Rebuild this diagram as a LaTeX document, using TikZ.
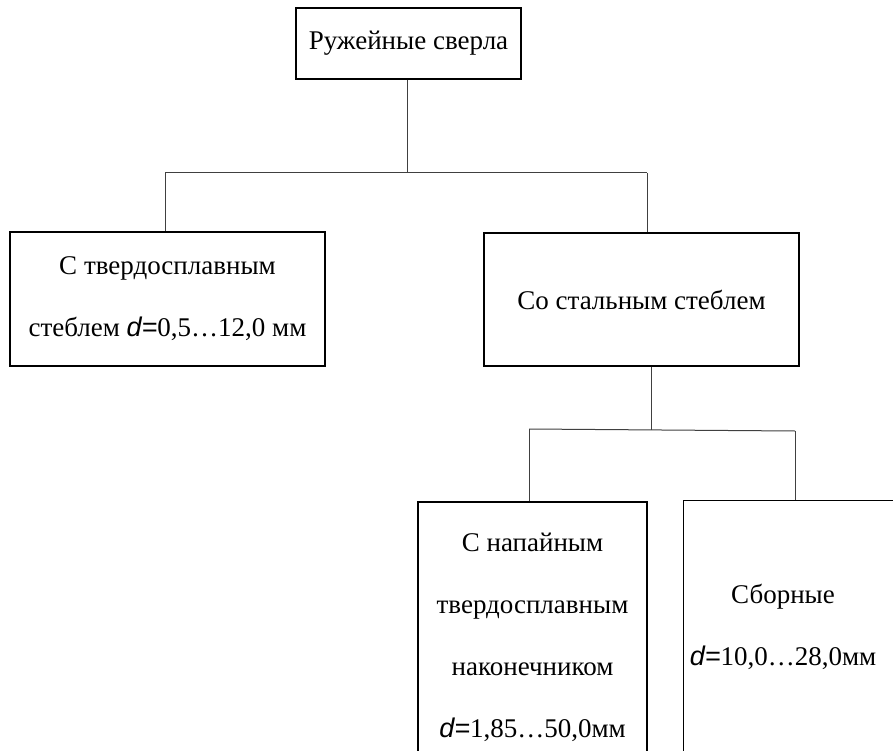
\documentclass[tikz,border=0pt]{standalone}
\usepackage{fontspec}
\setmainfont{Liberation Serif}
\setsansfont{Liberation Sans}
\usetikzlibrary{positioning}

\newcommand{\dpar}{{\sffamily\itshape d=}}

\tikzset{
	blok/.style={draw, rectangle, line width=1.4pt, align=center, inner sep=0pt,
		font=\fontsize{27}{62}\selectfont},
	nadpis/.style={align=center, inner sep=0pt, font=\fontsize{27}{62}\selectfont},
	svyaz/.style={draw=black!75, line width=1pt}
}

\begin{document}
\begin{tikzpicture}[x=1pt,y=-1pt]
			\useasboundingbox[fill=white] (0,0) rectangle (893,751);

			\node[blok, minimum width=225, minimum height=71] (sverla) at (408.5,43.5) {Ружейные сверла};
			\node[blok, minimum width=315, minimum height=134] (tverdo) at (167.5,299) {С твердосплавным\\стеблем \dpar0,5…12,0 мм};
			\node[blok, minimum width=315, minimum height=133] (stal) at (641.5,299.5) {Со стальным стеблем};
			\node[blok, minimum width=229, minimum height=270] (napai) at (532.5,637) {С напайным\\твердосплавным\\наконечником\\\dpar1,85…50,0мм};
			\node[blok, minimum width=240, minimum height=254, anchor=north west] (sborn) at (683,500) {};
			\node[nadpis] (sborntxt) at (783,627) {Сборные\\\dpar10,0…28,0мм};

			% razvetvleniya
			\coordinate (uzel1) at (407,173);
			\coordinate (uzel1l) at (165,173);
			\coordinate (uzel1r) at (647,173);
			\coordinate (uzel2) at (651,430);
			\coordinate (uzel2l) at (529,429);
			\coordinate (uzel2r) at (795,431);

			\path[svyaz]
			(sverla.south -| uzel1) edge (uzel1)
			(uzel1l) edge (uzel1r)
			(uzel1l) edge (uzel1l |- tverdo.north)
			(uzel1r) edge (uzel1r |- stal.north)
			(stal.south -| uzel2) edge (uzel2)
			(uzel2l) edge (uzel2r)
			(uzel2l) edge (uzel2l |- napai.north)
			(uzel2r) edge (uzel2r |- sborn.north)
			;
		\end{tikzpicture}
\end{document}
